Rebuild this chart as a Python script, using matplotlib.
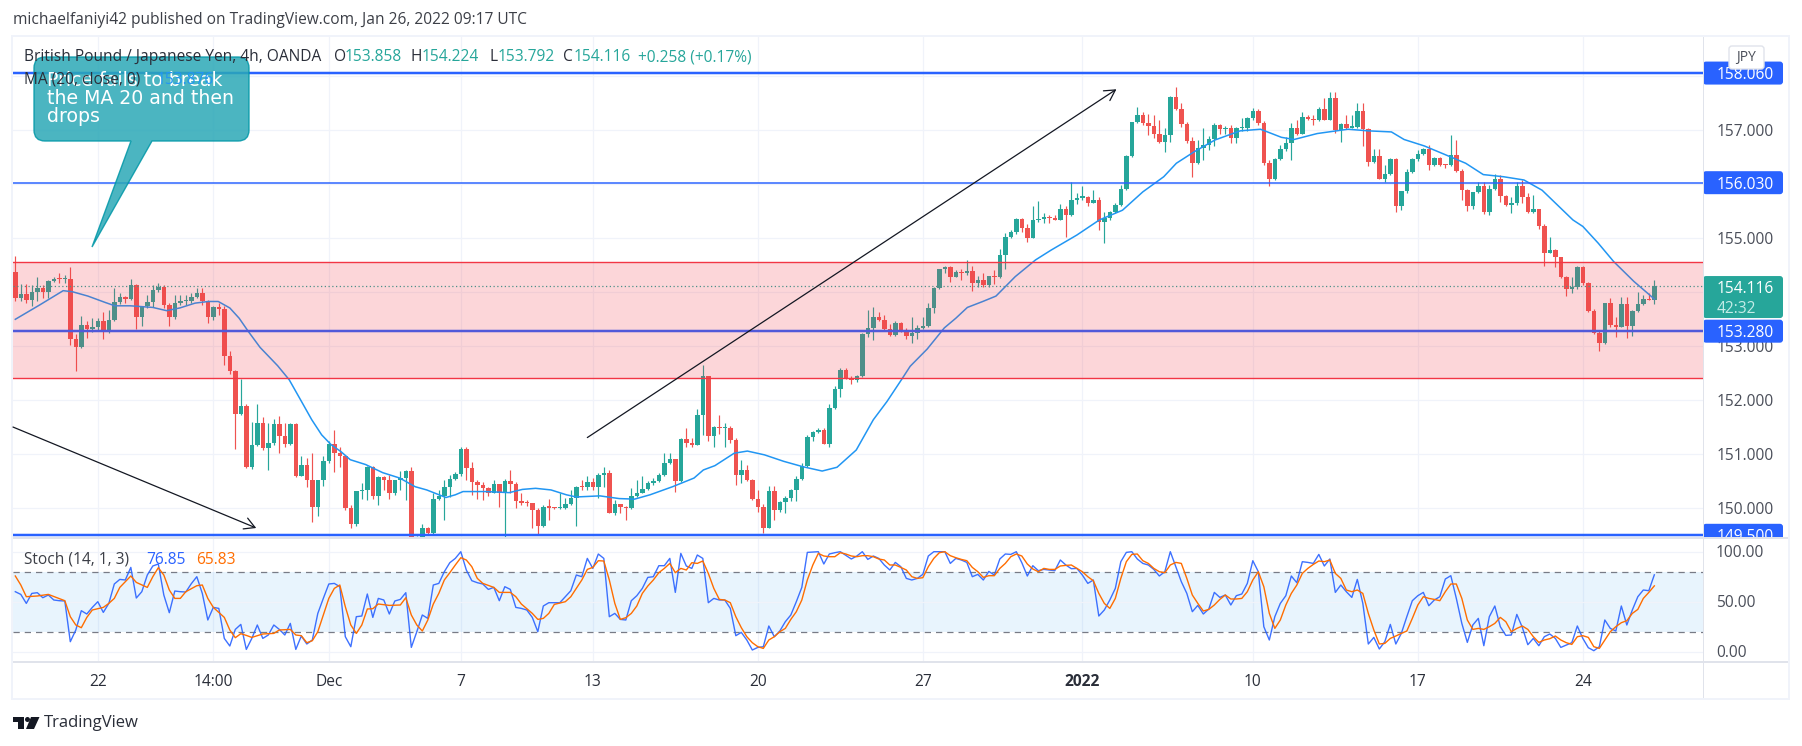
# coding=utf-8
import matplotlib
matplotlib.use("Agg")
import matplotlib.pyplot as plt
from matplotlib.patches import Circle, FancyBboxPatch, PathPatch, Polygon, Rectangle
from matplotlib.path import Path
from matplotlib.transforms import IdentityTransform
import numpy as np

W, H = 1802, 746
plt.rcParams["font.family"] = ["Open Sans", "DejaVu Sans"]

# GBP/JPY 4h candles (open = previous close)
first_open = 154.37
closes = [
    153.90, 153.97, 153.85, 154.01, 154.08, 154.01, 154.21, 154.25, 154.24, 154.25,
    153.14, 152.98, 153.40, 153.32, 153.35, 153.47, 153.27, 153.49, 153.82, 153.91,
    153.87, 154.13, 153.55, 153.74, 153.82, 154.04, 154.09, 153.77, 153.55, 153.80,
    153.83, 153.84, 153.91, 153.98, 153.83, 153.55, 153.72, 153.69, 152.82, 152.55,
    151.74, 151.90, 150.76, 151.17, 151.58, 151.11, 151.21, 151.56, 151.33, 151.19,
    151.56, 150.60, 150.81, 150.53, 150.03, 150.53, 150.87, 151.19, 151.03, 150.96,
    150.00, 149.71, 150.32, 150.33, 150.76, 150.22, 150.58, 150.53, 150.29, 150.53,
    150.56, 150.70, 149.45, 149.47, 149.63, 149.54, 150.17, 150.22, 150.39, 150.55,
    150.63, 151.10, 150.74, 150.48, 150.44, 150.38, 150.29, 150.45, 150.29, 150.51,
    150.45, 150.13, 150.10, 150.09, 149.96, 149.68, 150.02, 150.01, 150.00, 150.01,
    150.08, 150.20, 150.40, 150.39, 150.49, 150.39, 150.62, 150.65, 149.92, 150.08,
    150.02, 150.00, 150.22, 150.29, 150.35, 150.47, 150.50, 150.62, 150.84, 150.92,
    150.50, 151.28, 151.21, 151.18, 151.73, 152.45, 151.34, 151.50, 151.48, 151.48,
    151.27, 150.62, 150.71, 150.52, 150.17, 150.02, 149.64, 150.32, 149.96, 150.11,
    150.20, 150.34, 150.55, 150.79, 151.32, 151.42, 151.45, 151.20, 151.86, 152.21,
    152.56, 152.41, 152.37, 152.45, 153.23, 153.34, 153.55, 153.49, 153.32, 153.21,
    153.44, 153.30, 153.19, 153.24, 153.34, 153.38, 153.71, 154.08, 154.43, 154.46,
    154.29, 154.37, 154.35, 154.40, 154.18, 154.23, 154.14, 154.30, 154.28, 154.69,
    155.02, 155.12, 155.36, 155.20, 155.01, 155.33, 155.36, 155.39, 155.37, 155.34,
    155.54, 155.43, 155.71, 155.75, 155.76, 155.66, 155.71, 155.31, 155.37, 155.49,
    155.62, 155.92, 156.52, 157.15, 157.28, 157.13, 157.08, 156.93, 156.79, 156.91,
    157.61, 157.39, 157.12, 156.80, 156.39, 156.68, 156.73, 156.83, 157.10, 157.02,
    157.04, 156.86, 157.04, 157.05, 157.22, 157.36, 157.13, 156.40, 156.10, 156.47,
    156.65, 156.77, 157.04, 156.93, 157.24, 157.21, 157.19, 157.39, 157.20, 157.60,
    157.00, 157.11, 157.05, 157.07, 157.36, 157.02, 156.42, 156.52, 156.10, 156.19,
    156.46, 155.60, 155.88, 156.23, 156.46, 156.57, 156.65, 156.36, 156.48, 156.36,
    156.35, 156.55, 156.25, 155.89, 155.59, 155.85, 155.97, 155.49, 155.92, 156.10,
    155.79, 155.62, 155.65, 155.97, 155.77, 155.49, 155.54, 155.22, 154.73, 154.78,
    154.65, 154.28, 154.07, 154.10, 154.46, 154.17, 153.66, 153.25, 153.06, 153.80,
    153.40, 153.36, 153.78, 153.38, 153.66, 153.78, 153.88, 153.858, 154.116,
]
highs = [
    154.67, 154.16, 154.16, 154.14, 154.28, 154.14, 154.23, 154.29, 154.35, 154.32,
    154.46, 153.23, 153.56, 153.46, 153.52, 153.52, 153.64, 153.67, 154.08, 153.98,
    153.93, 154.25, 154.16, 153.74, 153.95, 154.14, 154.17, 154.14, 153.80, 153.95,
    153.95, 153.95, 153.98, 154.08, 154.08, 153.86, 153.74, 153.80, 153.74, 152.92,
    152.56, 152.39, 151.93, 151.59, 151.93, 151.69, 151.58, 151.65, 151.71, 151.58,
    151.58, 151.58, 150.96, 150.93, 151.02, 150.53, 150.96, 151.24, 151.45, 151.14,
    150.99, 150.07, 150.32, 150.47, 150.79, 150.79, 150.59, 150.59, 150.62, 150.53,
    150.70, 150.71, 150.76, 149.49, 149.71, 149.66, 150.28, 150.34, 150.53, 150.62,
    150.68, 151.13, 151.13, 150.85, 150.53, 150.48, 150.40, 150.53, 150.45, 150.54,
    150.71, 150.48, 150.28, 150.15, 150.10, 150.00, 150.07, 150.17, 150.02, 150.29,
    150.19, 150.34, 150.42, 150.53, 150.59, 150.56, 150.65, 150.76, 150.71, 150.16,
    150.08, 150.05, 150.37, 150.53, 150.60, 150.50, 150.56, 150.65, 151.02, 151.02,
    150.92, 151.30, 151.48, 151.30, 151.84, 152.66, 152.45, 151.52, 151.73, 151.58,
    151.53, 151.30, 150.89, 150.81, 150.54, 150.34, 150.08, 150.42, 150.42, 150.13,
    150.22, 150.35, 150.60, 150.84, 151.36, 151.44, 151.48, 151.48, 151.93, 152.27,
    152.59, 152.59, 152.45, 152.47, 153.25, 153.67, 153.72, 153.63, 153.58, 153.42,
    153.46, 153.45, 153.34, 153.55, 153.40, 153.54, 153.80, 154.09, 154.44, 154.49,
    154.49, 154.41, 154.43, 154.60, 154.49, 154.30, 154.35, 154.31, 154.41, 154.81,
    155.09, 155.15, 155.38, 155.38, 155.26, 155.59, 155.69, 155.47, 155.43, 155.43,
    155.63, 155.59, 156.04, 155.84, 155.96, 155.78, 155.89, 155.77, 155.49, 155.51,
    155.66, 155.99, 156.54, 157.16, 157.44, 157.33, 157.31, 157.28, 157.19, 157.04,
    157.63, 157.81, 157.50, 157.16, 156.88, 156.82, 157.04, 156.89, 157.13, 157.11,
    157.08, 157.10, 157.07, 157.22, 157.25, 157.41, 157.39, 157.17, 156.45, 156.48,
    156.73, 156.87, 157.13, 157.19, 157.34, 157.28, 157.28, 157.44, 157.59, 157.71,
    157.71, 157.13, 157.28, 157.28, 157.50, 157.50, 157.05, 156.65, 156.65, 156.36,
    156.48, 156.48, 155.88, 156.29, 156.49, 156.63, 156.68, 156.73, 156.51, 156.51,
    156.37, 156.92, 156.82, 156.29, 155.92, 155.86, 156.05, 156.05, 155.99, 156.20,
    156.17, 155.80, 155.77, 156.05, 156.08, 155.83, 155.80, 155.55, 155.26, 155.03,
    154.80, 154.66, 154.30, 154.29, 154.49, 154.49, 154.20, 153.70, 153.30, 153.81,
    153.89, 153.55, 153.92, 153.92, 153.67, 154.01, 153.95, 153.98, 154.224,
]
lows = [
    153.83, 153.83, 153.81, 153.74, 153.83, 153.89, 153.89, 154.20, 154.18, 154.18,
    153.03, 152.55, 152.96, 153.15, 153.27, 153.29, 153.14, 153.25, 153.46, 153.79,
    153.80, 153.86, 153.32, 153.38, 153.71, 153.72, 154.01, 153.71, 153.38, 153.51,
    153.77, 153.77, 153.80, 153.89, 153.77, 153.43, 153.49, 153.58, 152.66, 152.49,
    151.10, 151.73, 150.74, 150.73, 151.16, 151.08, 150.71, 151.18, 151.03, 151.13,
    151.17, 150.58, 150.59, 150.40, 149.74, 149.86, 150.42, 150.84, 150.68, 150.77,
    149.97, 149.63, 149.68, 150.17, 150.15, 150.17, 150.07, 150.34, 150.17, 150.25,
    150.34, 150.16, 149.43, 149.45, 149.45, 149.51, 149.52, 150.16, 149.79, 150.21,
    150.53, 150.59, 150.53, 150.25, 150.17, 150.15, 150.22, 150.28, 150.03, 149.47,
    150.28, 150.00, 150.07, 150.05, 149.63, 149.51, 149.66, 149.79, 149.99, 149.98,
    149.98, 150.07, 149.68, 150.34, 150.34, 150.34, 150.19, 150.40, 149.91, 149.88,
    149.92, 149.78, 149.98, 150.21, 150.28, 150.34, 150.44, 150.48, 150.60, 150.82,
    150.30, 150.48, 151.14, 151.14, 151.18, 151.36, 151.25, 151.13, 151.38, 151.14,
    151.21, 150.44, 150.47, 150.50, 150.16, 149.94, 149.55, 149.63, 149.79, 149.94,
    149.91, 150.13, 150.13, 150.53, 150.77, 151.25, 151.39, 151.19, 151.13, 151.84,
    152.07, 152.39, 152.30, 152.33, 152.43, 153.17, 153.12, 153.46, 153.30, 153.19,
    153.19, 153.27, 153.13, 153.07, 153.13, 153.32, 153.35, 153.61, 154.06, 154.35,
    154.20, 154.28, 154.23, 154.32, 154.03, 154.09, 154.09, 154.10, 154.15, 154.26,
    154.44, 155.00, 155.08, 155.12, 154.94, 155.00, 155.31, 155.28, 155.29, 155.33,
    155.33, 155.03, 155.42, 155.63, 155.71, 155.60, 155.65, 155.15, 154.92, 155.33,
    155.46, 155.59, 155.89, 156.50, 157.13, 157.10, 156.91, 156.85, 156.77, 156.60,
    156.79, 157.37, 157.07, 156.76, 156.13, 156.37, 156.45, 156.63, 156.71, 156.94,
    156.94, 156.77, 156.77, 156.99, 156.99, 157.19, 157.10, 156.36, 155.97, 156.08,
    156.45, 156.62, 156.45, 156.91, 156.93, 157.19, 157.10, 157.18, 157.19, 157.19,
    156.95, 156.79, 157.02, 157.04, 157.04, 156.71, 156.34, 156.39, 156.09, 156.05,
    156.17, 155.49, 155.52, 155.84, 156.21, 156.43, 156.54, 156.26, 156.34, 156.33,
    156.31, 156.34, 156.23, 155.71, 155.51, 155.55, 155.83, 155.45, 155.43, 155.89,
    155.68, 155.59, 155.47, 155.62, 155.65, 155.47, 155.47, 155.17, 154.49, 154.72,
    154.46, 154.26, 153.93, 153.99, 154.07, 154.14, 153.64, 153.23, 152.92, 153.04,
    153.36, 153.17, 153.35, 153.15, 153.19, 153.64, 153.76, 153.85, 153.792,
]

# MA 20, read at the bends of the line
ma_bars = [
    0, 4.5, 8.7, 10.4, 13.2, 16.4, 18.1, 20.9, 25, 27.5, 29.9, 32.7, 35.1, 36.9, 39,
    40.7, 42.4, 44.5, 47.7, 49.8, 51.8, 53.9, 55.7, 57.4, 59.2, 60.9, 63.7, 66.8, 69.9,
    72.7, 74.8, 78.3, 80, 81.4, 85.6, 89.8, 92.2, 94.6, 97.4, 100.2, 102, 106.3, 109.8,
    112.6, 115.4, 119.5, 123.4, 125.1, 127.2, 130.7, 133.1, 136.2, 139.7, 143.2, 146.7,
    149.4, 152.9, 156, 158.5, 161.3, 162.7, 165.8, 168.9, 171, 173.1, 175.9, 178.3,
    181.8, 185.5, 188.3, 193, 197.1, 201.3, 205, 208.8, 211.1, 214.3, 218.1, 222.7,
    226.4, 230.2, 232.5, 236.7, 242.3, 246, 250.2, 252.5, 256.2, 260.9, 263.7, 266.9,
    270.6, 274.3, 277.6, 283.2, 285, 287.8, 290.6, 294.3, 298,
]
ma_values = [
    153.50, 153.77, 154.03, 154.01, 153.93, 153.81, 153.75, 153.75, 153.72, 153.66, 153.71,
    153.80, 153.83, 153.83, 153.71, 153.52, 153.27, 152.98, 152.64, 152.38, 152.02, 151.64,
    151.36, 151.18, 151.05, 150.90, 150.81, 150.66, 150.56, 150.40, 150.34, 150.20, 150.25,
    150.31, 150.31, 150.29, 150.35, 150.37, 150.34, 150.25, 150.21, 150.23, 150.18, 150.17,
    150.25, 150.40, 150.56, 150.71, 150.79, 151.02, 151.06, 150.99, 150.87, 150.77, 150.69,
    150.76, 151.08, 151.64, 151.98, 152.41, 152.63, 152.95, 153.34, 153.52, 153.72, 153.83,
    153.93, 154.29, 154.60, 154.78, 155.06, 155.34, 155.52, 155.86, 156.14, 156.39, 156.60,
    156.82, 156.99, 157.02, 156.87, 156.83, 156.94, 157.02, 156.99, 156.97, 156.83, 156.71,
    156.51, 156.39, 156.18, 156.14, 156.08, 155.89, 155.34, 155.22, 154.91, 154.57, 154.20,
    153.876,
]

# Stochastic %K, one value per bar
stoch_k = [
    60, 57.3, 48.3, 58.3, 59, 54, 56.7, 51.7, 51, 50.7, 10, 21.7, 41, 37.7, 44.3, 50, 39.3,
    48.3, 67.7, 72.3, 71.7, 84.3, 53.7, 60, 76.7, 85.7, 87.7, 56.7, 39, 60.7, 60, 59.7, 68,
    75, 58.3, 31.7, 44.3, 43.3, 13.3, 5.7, 22.3, 27.3, 2.3, 13.3, 26.7, 13.3, 16.7, 26.7,
    22.3, 16.7, 28.3, 2.3, 15.7, 7.7, 11.7, 38.3, 53.3, 67.7, 68.3, 65, 15, 5, 35, 35.7,
    57.7, 34.3, 53.3, 51.7, 37.7, 50.7, 52.3, 59, 4.3, 20, 36.7, 33.3, 66.7, 68.3, 80, 89,
    93.3, 100, 81.7, 71, 69, 67.7, 62.3, 64.3, 51, 65, 62.3, 44.3, 43.3, 41.7, 34.3, 20,
    45.7, 49, 49, 49, 55, 61, 76.7, 75, 93.3, 83.3, 97.7, 93.3, 35, 38.3, 32.3, 31.7, 51,
    56, 63.3, 74.3, 75, 86, 86, 93.3, 59.3, 98.3, 85.7, 83.3, 96.7, 93.3, 49, 53.3, 51.7,
    51.7, 43.3, 16, 19.3, 11.7, 1.7, 4.3, 5, 25.7, 15, 20.7, 30, 36.7, 50, 64.3, 99.3, 99.7,
    100, 87.7, 97.7, 99, 100, 96.3, 92.7, 95.7, 100, 92.3, 95.7, 93.3, 86.7, 81.7, 89.3, 85,
    73.3, 71.7, 73.3, 77.3, 95.7, 100, 100, 100, 88.3, 93.3, 91.7, 89.3, 75, 77.3, 71.7,
    80.3, 76.7, 92.7, 97.7, 97.3, 100, 89, 75.7, 86, 81, 82.3, 81.7, 81, 91.7, 86.7, 83,
    83.3, 76.7, 68.3, 71.7, 35.7, 41.7, 51.7, 63.3, 90, 99.3, 100, 92.7, 88.3, 86.7, 82.3,
    75.7, 80, 100, 85, 70, 58.3, 40, 46.3, 37.7, 42.7, 59.3, 54.3, 56.7, 46.7, 56, 57.7,
    68.3, 91, 80, 25, 11.7, 35, 48.3, 56, 75.7, 69, 90, 89.3, 88.3, 97.3, 85.7, 92.7, 59.3,
    66.7, 60, 54.3, 72.3, 48.3, 7.7, 14.3, 2.7, 10, 27.3, 7.7, 18.3, 35, 51, 56, 59.3, 46,
    51.7, 55, 72.7, 76, 53.3, 28.3, 9.3, 26.7, 33.3, 6, 35, 45.7, 25, 16.3, 16.7, 37.3,
    24.3, 7, 13.3, 6, 15, 17.7, 13.3, 4.3, 6.7, 9, 25.7, 13.3, 4, 1, 5, 31.7, 23.3, 20.7,
    45.7, 26.7, 41.7, 55, 61.7, 61, 76.85,
]

# Stochastic %D
stoch_d_bars = [
    0, 1, 2, 4, 6, 9, 10, 11, 12, 13, 14, 16, 17, 18, 19, 21, 22, 24, 25, 26, 27, 28, 29,
    30, 31, 33, 34, 35, 36, 38, 39, 40, 41, 42, 43, 45, 47, 48, 50, 51, 52, 53, 54, 55, 56,
    57, 58, 59, 60, 61, 62, 63, 64, 65, 66, 68, 70, 71, 72, 73, 74, 75, 76, 77, 78, 79, 80,
    81, 82, 83, 84, 85, 87, 88, 90, 91, 92, 94, 95, 96, 97, 98, 100, 101, 103, 104, 105,
    106, 107, 108, 109, 110,
] + list(range(111, 299))
stoch_d = [
    75.7, 66.7, 55, 55.7, 57.3, 51, 35, 26.7, 24, 34.3, 41.7, 44.3, 48.3, 53.3, 64.3, 75.7,
    69.3, 64.3, 75, 84, 76.7, 61.7, 53.3, 53.3, 60, 66, 66.7, 53.3, 44.3, 34.3, 21.7, 14,
    18, 16.3, 14.3, 17.7, 18.3, 21.7, 22.3, 16.7, 16, 9, 11, 20, 36.7, 53.3, 63.3, 66.7, 45,
    26.7, 18.3, 26.7, 42.7, 43, 47.7, 46.3, 46.7, 54, 36.7, 26.7, 20.7, 31.7, 47.7, 58.3,
    71.7, 79, 86.7, 94, 91.7, 85, 73.3, 68.3, 64.3, 59.3, 59.3, 55, 47.7, 38.3, 32.3, 33.3,
    38.3, 47.3, 50, 55, 71.7, 82.3, 84.3, 91, 90.7, 71.7, 48.3, 32.3,
    34, 38.3, 45.7, 58.3, 65.7, 71.7, 79, 83.3, 88.3, 79, 83.3, 81.7, 89, 88.3, 90.7, 78.3,
    63.3, 52.3, 51.7, 49, 35, 24, 15, 9, 5, 3.3, 11.7, 15, 20, 23.3, 32.3, 40, 51.7, 71.7,
    86.7, 98.3, 95.7, 95, 95, 99, 97.7, 95.7, 95, 96, 96, 95, 92.7, 91.7, 86.7, 86.7, 84.3,
    81.7, 75, 73.3, 74, 85, 93.3, 99, 100, 96, 94, 92.3, 91, 84.3, 80, 74.3, 76, 76, 83.3,
    88.3, 95, 97.7, 95.7, 87.7, 82.7, 80, 83.3, 82.3, 82.3, 85.7, 86.3, 86.7, 83.3, 80, 75,
    71, 58.3, 48.3, 43.3, 53.3, 73.3, 90, 97.3, 97.7, 91, 88.3, 83.3, 80, 79, 86.7, 89.3,
    88.3, 73.3, 56.7, 48.3, 40.7, 42.3, 46.7, 52.3, 56.7, 52.7, 52.7, 53.3, 60, 71.7, 80,
    65, 38.3, 23.3, 31.7, 46.7, 58.3, 66.7, 78.3, 83.3, 87.3, 90.7, 90, 91.7, 78.3, 73.3,
    61.7, 60, 61.7, 58.3, 38.3, 21.7, 7.7, 8.3, 13.3, 15.7, 18.3, 20.7, 33.3, 46.7, 55,
    53.3, 52.3, 51, 60, 67.7, 67.7, 53.3, 31.7, 22.3, 23.3, 22.3, 25, 28.3, 34.3, 30, 20,
    23.3, 25.7, 22.3, 15, 9.3, 11.7, 13, 15.7, 11.7, 9, 7.3, 15, 16, 14.3, 5, 3.3, 11.7, 20,
    25, 29, 31, 38.3, 42.3, 53.3, 59.3, 65.83,
]

# levels and labels
support_levels = [158.06, 156.03, 153.28, 149.50]
support_widths = [2.5, 1.5, 2.5, 2.5]
zone_low, zone_high = 152.41, 154.57
last_price = 154.116
price_ticks = [150, 151, 152, 153, 154, 155, 156, 157, 158]
price_tick_labels = {150: "150.000", 151: "151.000", 152: "152.000", 153: "153.000",
                     155: "155.000", 157: "157.000"}
stoch_ticks = [100, 50, 0]
time_ticks = [15, 36, 57, 81, 105, 135, 165, 194, 225, 255, 285]
time_labels = ["22", "14:00", "Dec", "7", "13", "20", "27", "2022", "10", "17", "24"]

UP, DOWN = "#26a69a", "#ef5350"
BLUE = "#2962ff"
GRID = "#f0f3fa"
AXIS = "#e0e3eb"
TEXT = "#131722"
SCALE = "#4a4e59"
FONT = 11.2
TEXT_DROP = 2  # scale labels sit a little under their line


def pane(left, top, right, bottom):
    ax = fig.add_axes([left / W, 1 - bottom / H, (right - left) / W, (bottom - top) / H])
    ax.set_axis_off()
    ax.set_xlim(-0.42, 306.85)
    ax.set_zorder(2)
    return ax


def fig_text(x, y, s, **kw):
    kw.setdefault("color", TEXT)
    kw.setdefault("fontsize", FONT)
    kw.setdefault("va", "center")
    kw.setdefault("ha", "left")
    kw.setdefault("zorder", 20)
    return fig.text(x / W, 1 - y / H, s, **kw)


def px_rect(x0, y0, x1, y1, color, zorder=1):
    fig.add_artist(Rectangle((x0, H - y1), x1 - x0, y1 - y0, transform=IdentityTransform(),
                             facecolor=color, edgecolor="none", zorder=zorder))


def price_label(price, text, color, clip_ax, height=23):
    y = clip_ax.transData.transform((0, price))[1]
    box = FancyBboxPatch((1703, y - height / 2), 80, height, boxstyle="round,pad=0,rounding_size=3",
                         transform=IdentityTransform(), facecolor=color, edgecolor="none", zorder=8)
    fig.add_artist(box)
    box.set_clip_box(clip_ax.bbox)
    t = fig.text(1717 / W, (y - TEXT_DROP) / H, text, color="white", fontsize=FONT, va="center",
                 ha="left", zorder=9)
    t.set_clip_box(clip_ax.bbox)
    t.set_clip_on(True)


fig = plt.figure(figsize=(W / 100, H / 100), dpi=100, facecolor="white")

# outer frame
px_rect(11, 35, 1790, 700, GRID, -2)
px_rect(13, 37, 1788, 698, "white", -1)

ax = pane(13, 37, 1703, 538)
ax.set_ylim(149.45, 158.728)
ax_scale = pane(1703, 37, 1788, 538)
ax_scale.set_ylim(149.45, 158.728)
ax_stoch = pane(13, 538, 1703, 662)
ax_stoch.set_ylim(-10.3, 113.7)

# grid
for a in (ax, ax_stoch):
    for t in time_ticks:
        a.axvline(t, color=GRID, lw=0.9, zorder=0)
for p in price_ticks:
    ax.axhline(p, color=GRID, lw=0.9, zorder=0)

# candles
opens = np.array([first_open] + closes[:-1])
closes_a = np.array(closes)
bars = np.arange(len(closes_a))
colors = [UP if c >= o else DOWN for o, c in zip(opens, closes_a)]
ax.vlines(bars, lows, highs, colors=colors, lw=0.85, zorder=3)
bottoms = np.minimum(opens, closes_a)
heights = np.maximum(np.abs(closes_a - opens), 0.025)
ax.bar(bars, heights, bottom=bottoms, width=0.82, color=colors, linewidth=0, zorder=3)

ax.plot(ma_bars, ma_values, color="#2196f3", lw=1.1, zorder=3.5)
ax.axhline(last_price, color=UP, lw=0.9, ls=(0, (1, 2)), zorder=3.6)

# support / resistance lines and red zone
for level, width in zip(support_levels, support_widths):
    ax.axhline(level, color=BLUE, lw=width * 0.72, zorder=4)
ax.axhspan(zone_low, zone_high, facecolor="#f23645", alpha=0.2, linewidth=0, zorder=5)
ax.axhline(zone_high, color="#f23645", lw=1.0, zorder=5)
ax.axhline(zone_low, color="#f23645", lw=1.0, zorder=5)

# trend arrows
for start, end in [((-0.42, 151.505), (43.8, 149.635)), ((104, 151.31), (200.2, 157.76))]:
    ax.annotate("", xy=end, xytext=start, zorder=5.5,
                arrowprops=dict(arrowstyle="->,head_length=0.75,head_width=0.42", color="#131722",
                                lw=0.9, shrinkA=0, shrinkB=0))

# callout
corner = 11
x0, x1, y0, y1 = 34, 249, 57, 141
tail = [(152, y1), (92, 247), (131, y1)]
verts = [(x0 + corner, y0), (x1 - corner, y0), (x1, y0), (x1, y0 + corner), (x1, y1 - corner),
         (x1, y1), (x1 - corner, y1)] + tail + [(x0 + corner, y1), (x0, y1), (x0, y1 - corner),
         (x0, y0 + corner), (x0, y0), (x0 + corner, y0), (x0 + corner, y0)]
codes = [Path.MOVETO, Path.LINETO, Path.CURVE3, Path.CURVE3, Path.LINETO, Path.CURVE3, Path.CURVE3,
         Path.LINETO, Path.LINETO, Path.LINETO, Path.LINETO, Path.CURVE3, Path.CURVE3, Path.LINETO,
         Path.CURVE3, Path.CURVE3, Path.CLOSEPOLY]
verts = [(x, H - y) for x, y in verts]
fig.add_artist(PathPatch(Path(verts, codes), transform=IdentityTransform(), facecolor="#2ba8b7",
                         alpha=0.85, edgecolor="#0097a7", lw=1, zorder=6))
fig_text(47, 98.5, "Price fails to break\nthe MA 20 and then\ndrops", color="white", fontsize=13.6,
         linespacing=0.92, zorder=7, family=["DejaVu Sans"])

# stochastic
ax_stoch.axhspan(20, 80, facecolor="#2196f3", alpha=0.1, linewidth=0, zorder=0.5)
for level in stoch_ticks:
    ax_stoch.axhline(level, color=GRID, lw=0.9, zorder=0.6)
for level in [80, 20]:
    ax_stoch.axhline(level, color="#787b86", lw=0.9, ls=(0, (5, 4)), zorder=1)
ax_stoch.plot(np.arange(len(stoch_k)), stoch_k, color=BLUE, lw=1.0, alpha=0.9, zorder=3)
ax_stoch.plot(stoch_d_bars, stoch_d, color="#ff6d00", lw=1.0, zorder=4)

# pane separators
px_rect(13, 537, 1788, 539, AXIS, 10)
px_rect(13, 661, 1788, 663, AXIS, 10)
px_rect(1703, 37, 1704, 698, AXIS, 10)

# price scale
for p, label in price_tick_labels.items():
    y = ax.transData.transform((0, p))[1]
    fig.text(1717 / W, (y - TEXT_DROP) / H, label, color=SCALE, fontsize=FONT, va="center", ha="left", zorder=7)
for level, text in zip(support_levels, ["158.060", "156.030", "153.280", "149.500"]):
    price_label(level, text, BLUE, ax_scale)
y_last = ax.transData.transform((0, last_price))[1]
fig.add_artist(FancyBboxPatch((1703, y_last - 32), 80, 42, boxstyle="round,pad=0,rounding_size=3",
                              transform=IdentityTransform(), facecolor=UP, edgecolor="none", zorder=8))
fig.text(1717 / W, (y_last - 1 - TEXT_DROP) / H, "154.116", color="white", fontsize=FONT, va="center", zorder=9)
fig.text(1717 / W, (y_last - 21 - TEXT_DROP) / H, "42:32", color="#c4ece7", fontsize=FONT, va="center", zorder=9)
fig.add_artist(FancyBboxPatch((1729, H - 69), 35, 23, boxstyle="round,pad=0,rounding_size=3",
                              transform=IdentityTransform(), facecolor="white", edgecolor=AXIS, lw=1, zorder=10))
fig_text(1746.5, 57.5, "JPY", color=SCALE, fontsize=10, ha="center")

# stochastic scale
for level in stoch_ticks:
    y = ax_stoch.transData.transform((0, level))[1]
    fig.text(1716 / W, (y - 1) / H, "%.2f" % level, color=SCALE, fontsize=FONT, va="center", zorder=7)

# time axis
for t, label in zip(time_ticks, time_labels):
    x = ax.transData.transform((t, 0))[0]
    fig_text(x, 682, label, ha="center", color="#2a2e39",
             fontweight="bold" if label == "2022" else "normal")

# header and legends
fig_text(13, 20, "michaelfaniyi42 published on TradingView.com, Jan 26, 2022 09:17 UTC", color="#3c3f47")
fig_text(24, 57, "British Pound / Japanese Yen, 4h, OANDA", color="#2a2e39")
for x, head, value in [(334, "O", "153.858"), (411, "H", "154.224"), (489, "L", "153.792"), (563, "C", "154.116")]:
    fig_text(x, 57, head, color="#2a2e39")
    fig_text(x + (11 if head != "L" else 9), 57, value, color=UP)
fig_text(638, 57, "+0.258 (+0.17%)", color=UP)
fig_text(24, 80, "MA (20, close, 0)", color="#2a2e39")
fig_text(157, 80, "153.876", color="#2196f3")
fig_text(24, 560, "Stoch (14, 1, 3)", color="#3c3f47")
fig_text(146, 560, "76.85", color=BLUE)
fig_text(196, 560, "65.83", color="#ff6d00")

# TradingView mark
logo = "#131722"
t_shape = [(13, 717), (24, 717), (24, 729), (18, 729), (18, 722), (13, 722)]
v_shape = [(31, 717), (39.5, 717), (34, 729), (26, 729)]
for shape in (t_shape, v_shape):
    fig.add_artist(Polygon([(x, H - y) for x, y in shape], closed=True, transform=IdentityTransform(),
                           facecolor=logo, edgecolor="none"))
fig.add_artist(Circle((27.5, H - 719.5), 2.5, transform=IdentityTransform(), facecolor=logo, edgecolor="none"))
fig_text(44, 723, "TradingView", fontsize=12, color="#2a2e39")

fig.savefig("out.png", dpi=100)
